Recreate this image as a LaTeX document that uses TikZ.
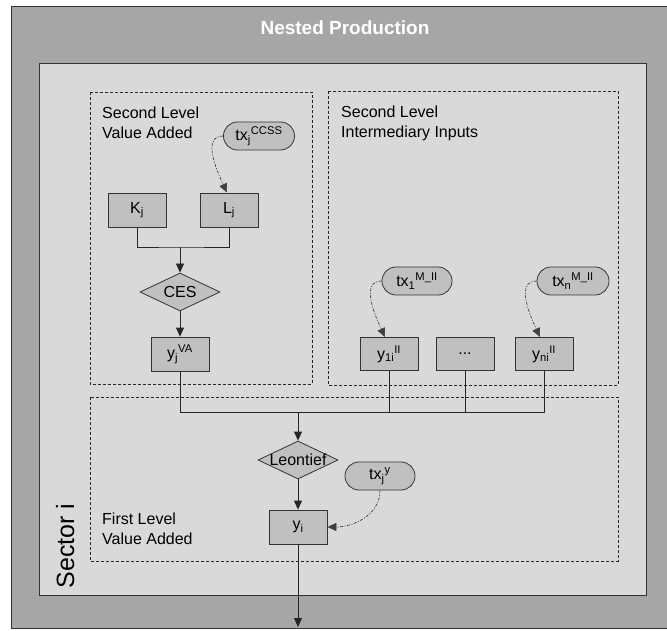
\documentclass[tikz,border=0pt]{standalone}
\usepackage{fontspec}
\setmainfont{Liberation Sans}
\usetikzlibrary{arrows.meta,shapes.geometric}
\definecolor{outerg}{RGB}{166,166,166}
\definecolor{innerg}{RGB}{217,217,217}
\definecolor{boxg}{RGB}{192,192,192}
\begin{document}
\begin{tikzpicture}[x=1pt,y=-1pt,
  every node/.style={font=\fontsize{16}{20}\selectfont},
  varbox/.style={draw=black!80, fill=boxg, line width=0.8pt, minimum width=58pt, minimum height=34pt, inner sep=0pt},
  pill/.style={draw=black!80, fill=boxg, line width=0.8pt, rounded corners=13.9pt, minimum width=70pt, minimum height=28pt, inner sep=0pt},
  dia/.style={draw=black!80, fill=boxg, line width=0.8pt, diamond, minimum width=80pt, minimum height=38pt, inner sep=0pt},
  region/.style={draw=black!85, line width=0.7pt, dash pattern=on 3pt off 2pt},
  flow/.style={draw=black!85, line width=0.8pt},
  arr/.style={flow, -{Triangle[length=9pt,width=8pt]}},
  dd/.style={draw=black!75, line width=0.7pt, dash pattern=on 3pt off 1.5pt on 1pt off 1.5pt, -{Triangle[length=9pt,width=8pt]}},
  lab/.style={align=left, anchor=north west, inner sep=0pt}
]
\useasboundingbox (0,0) rectangle (667,631);
\fill[white] (0,0) rectangle (667,631);
% outer and inner panels
\fill[outerg] (11,6) rectangle (667,628);
\draw[black!80, line width=0.8pt] (667,6) -- (11,6) -- (11,628) -- (667,628);
\draw[fill=innerg, draw=black!80, line width=0.8pt] (39,63) rectangle (646,595);
\node[font=\fontsize{19}{22}\selectfont\bfseries, text=white] (title) at (345,28) {Nested Production};
\node[font=\fontsize{25}{28}\selectfont, rotate=90, anchor=base, inner sep=0pt] (sector) at (74,546) {Sector i};
% dashed regions
\draw[region] (90,92) rectangle (312,384);
\draw[region] (328,91) rectangle (618,385);
\draw[region] (90,397) rectangle (618,561);
\node[lab] (lva) at (102,107) {Second Level\\Value Added};
\node[lab] (lii) at (341,106) {Second Level\\Intermediary Inputs};
\node[lab] (lfl) at (102,513) {First Level\\Value Added};
% nodes
\node[varbox] (K) at (137,210) {K\textsubscript{j}};
\node[varbox] (L) at (229,210) {L\textsubscript{j}};
\node[pill, minimum width=71pt] (txc) at (259,136) {tx\textsubscript{j}\textsuperscript{CCSS}};
\node[dia] (ces) at (180,292) {};
\node (cest) at (ces.center) {CES};
\node[varbox] (yva) at (180,354) {y\textsubscript{j}\textsuperscript{VA}};
\node[pill] (tx1) at (417,281) {tx\textsubscript{1}\textsuperscript{M\_II}};
\node[pill, minimum width=72pt] (txn) at (573,281) {tx\textsubscript{n}\textsuperscript{M\_II}};
\node[varbox, minimum height=33pt] (y1) at (389,354) {y\textsubscript{1i}\textsuperscript{II}};
\node[varbox, minimum height=33pt] (dots) at (465,354) {...};
\node[varbox, minimum height=33pt] (yn) at (544,354) {y\textsubscript{ni}\textsuperscript{II}};
\node[dia] (leo) at (298,460) {};
\node[inner sep=0pt] (leot) at (leo.center) {Leontief};
\node[varbox] (yi) at (298,527) {y\textsubscript{i}};
\node[pill] (txy) at (380,476) {tx\textsubscript{j}\textsuperscript{y}};
% connectors
\coordinate (j1) at (180,247);
\draw[flow] (K.south) |- (j1) -| (L.south);
\draw[arr] (j1) -- (ces.north);
\draw[arr] (ces.south) -- (yva.north);
\coordinate (j2) at (298,412);
\draw[flow] (yva.south) |- (yn.south |- j2) -- (yn.south);
\draw[flow] (y1.south) -- (y1.south |- j2);
\draw[flow] (dots.south) -- (dots.south |- j2);
\draw[arr] (j2) -- (leo.north);
\draw[arr] (leo.south) -- (yi.north);
\coordinate (out) at (298,627);
\draw[arr] (yi.south) -- (out);
\draw[dd] (txc.west) to[out=180,in=115] ([xshift=-2pt]L.north);
\draw[dd] (tx1.west) to[out=180,in=115] ([xshift=-4pt]y1.north);
\draw[dd] (txn.west) to[out=180,in=115] ([xshift=-4pt]yn.north);
\draw[dd] (txy.south) to[out=-90,in=0] (yi.east);
\end{tikzpicture}
\end{document}
